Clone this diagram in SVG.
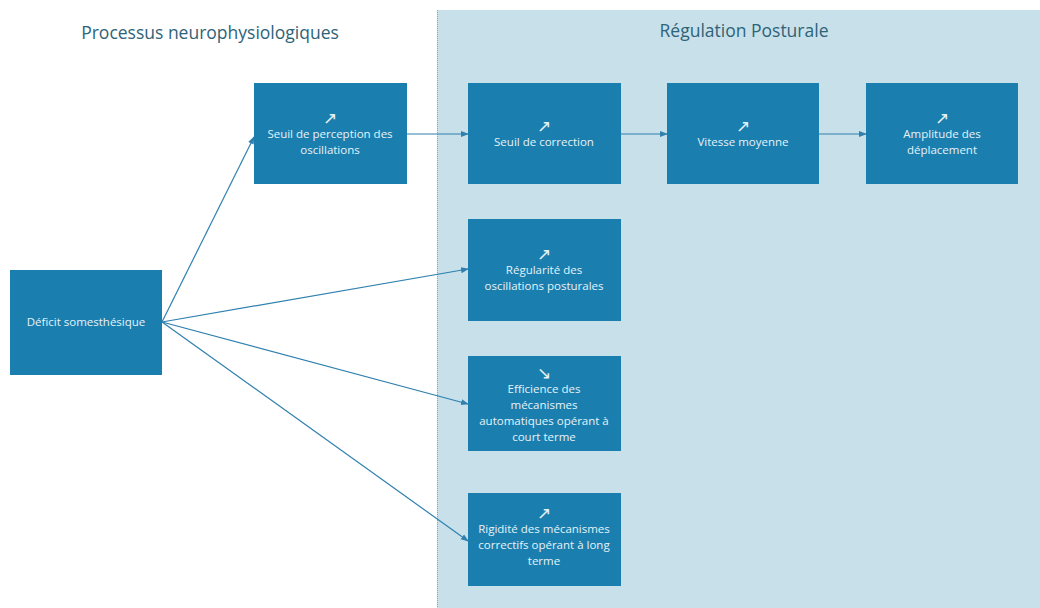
<svg xmlns="http://www.w3.org/2000/svg" width="1040" height="608" viewBox="0 0 1040 608">
<defs>
<marker id="ah" markerWidth="8" markerHeight="8" refX="7" refY="4" orient="auto" markerUnits="userSpaceOnUse">
<path d="M0,1 L8,4 L0,7 Z" fill="#2F80AE"/>
</marker>
<style>
.box{fill:#1A7FAF;}
.t{font-family:"Open Sans","Liberation Sans",sans-serif;font-size:11.5px;fill:#E6F2F8;text-anchor:middle;}
.a{font-family:"DejaVu Sans",sans-serif;font-size:17px;fill:#E6F2F8;text-anchor:middle;}
.h{font-family:"Open Sans","Liberation Sans",sans-serif;font-size:17.5px;fill:#2E6378;text-anchor:middle;}
.c{stroke:#2F80AE;stroke-width:1.2;fill:none;marker-end:url(#ah);}
</style>
</defs>
<rect width="1040" height="608" fill="#FFFFFF"/>
<rect x="437" y="10" width="603" height="598" fill="#C8E0EA"/>
<line x1="437.5" y1="10" x2="437.5" y2="608" stroke="#8AA4B0" stroke-width="1" stroke-dasharray="1,1"/>
<text class="h" x="210" y="39">Processus neurophysiologiques</text>
<text class="h" x="744" y="37">Régulation Posturale</text>
<g id="connectors">
<line class="c" x1="162" y1="322" x2="254" y2="137"/>
<line class="c" x1="162" y1="322" x2="468" y2="269"/>
<line class="c" x1="162" y1="322" x2="468" y2="404"/>
<line class="c" x1="162" y1="322" x2="468" y2="541"/>
<line class="c" x1="407" y1="134" x2="468" y2="134"/>
<line class="c" x1="621" y1="134" x2="667" y2="134"/>
<line class="c" x1="819" y1="134" x2="866" y2="134"/>
</g>
<g id="deficit"><rect class="box" x="10" y="270" width="152" height="105"/><text class="t" x="86" y="326">Déficit somesthésique</text></g>
<g id="perception"><rect class="box" x="254" y="83" width="153" height="101"/><text class="a" x="330" y="124">↗</text><text class="t" x="330" y="138">Seuil de perception des</text><text class="t" x="330" y="154">oscillations</text></g>
<g id="correction"><rect class="box" x="468" y="83" width="153" height="101"/><text class="a" x="544" y="132">↗</text><text class="t" x="544" y="146">Seuil de correction</text></g>
<g id="vitesse"><rect class="box" x="667" y="83" width="152" height="101"/><text class="a" x="743" y="132">↗</text><text class="t" x="743" y="146">Vitesse moyenne</text></g>
<g id="amplitude"><rect class="box" x="866" y="83" width="152" height="101"/><text class="a" x="942" y="124">↗</text><text class="t" x="942" y="138">Amplitude des</text><text class="t" x="942" y="154">déplacement</text></g>
<g id="regularite"><rect class="box" x="468" y="219" width="153" height="102"/><text class="a" x="544" y="260">↗</text><text class="t" x="544" y="274">Régularité des</text><text class="t" x="544" y="290">oscillations posturales</text></g>
<g id="efficience"><rect class="box" x="468" y="356" width="153" height="95"/><text class="a" x="544" y="379">↘</text><text class="t" x="544" y="393">Efficience des</text><text class="t" x="544" y="409">mécanismes</text><text class="t" x="544" y="425">automatiques opérant à</text><text class="t" x="544" y="441">court terme</text></g>
<g id="rigidite"><rect class="box" x="468" y="493" width="153" height="93"/><text class="a" x="544" y="519">↗</text><text class="t" x="544" y="533">Rigidité des mécanismes</text><text class="t" x="544" y="549">correctifs opérant à long</text><text class="t" x="544" y="565">terme</text></g>
</svg>
